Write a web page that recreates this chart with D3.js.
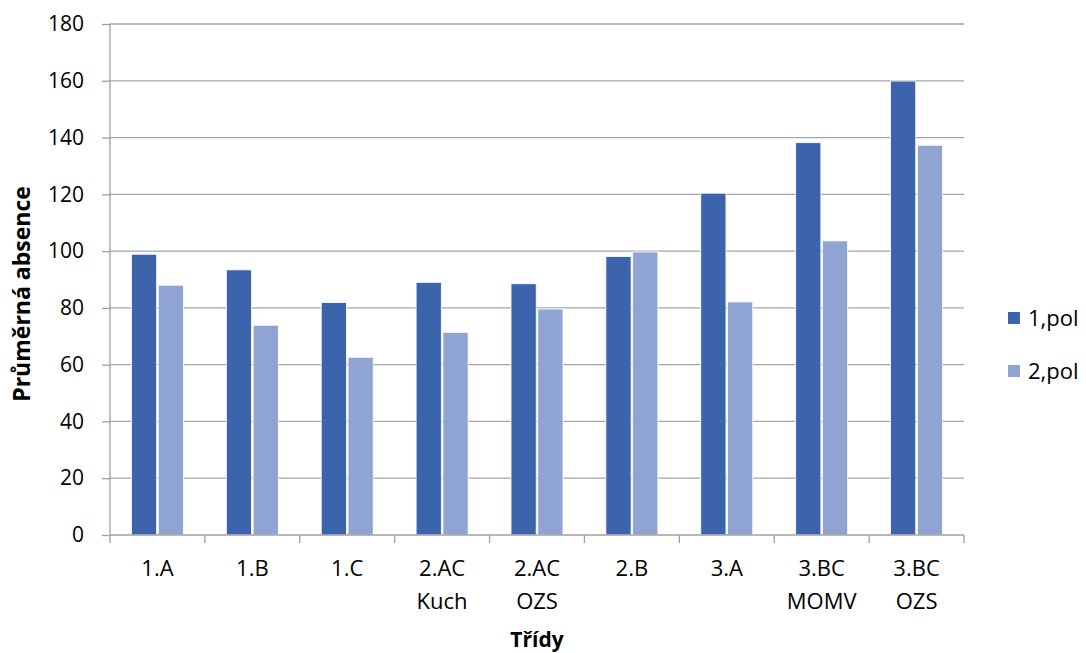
<!DOCTYPE html>
<html>
<head>
<meta charset="utf-8">
<script src="https://cdn.jsdelivr.net/npm/d3@7"></script>
<style>
  body { margin: 0; background: #fff; }
  svg text { font-family: 'Open Sans', 'Noto Sans', sans-serif; }
</style>
</head>
<body>
<svg></svg>
<script>
const WIDTH = 1086;
const HEIGHT = 653;
const MARGINS = { left: 110, top: 24, right: 122, bottom: 118 };
const graphWidth = WIDTH - MARGINS.left - MARGINS.right;
const graphHeight = HEIGHT - MARGINS.top - MARGINS.bottom;

const categories = [['1.A'], ['1.B'], ['1.C'], ['2.AC', 'Kuch'], ['2.AC', 'OZS'], ['2.B'], ['3.A'], ['3.BC', 'MOMV'], ['3.BC', 'OZS']];
const series = ['1,pol', '2,pol'];
const firstHalf = [98.9, 93.4, 81.9, 89.0, 88.5, 98.1, 120.4, 138.2, 159.9];
const secondHalf = [88.0, 73.9, 62.6, 71.4, 79.6, 99.7, 82.1, 103.6, 137.3];
const yTicks = [0, 20, 40, 60, 80, 100, 120, 140, 160, 180];
const COLORS = ['#3c64ad', '#90a4d4'];
const FONT = 21;
const FAMILY = "'Open Sans', 'Noto Sans', sans-serif";

const keys = categories.map((c) => c.join(' '));
const data = keys.map((k, i) => ({ name: k, values: [firstHalf[i], secondHalf[i]] }));

const svg = d3.select('svg').attr('width', WIDTH).attr('height', HEIGHT);
const graph = svg.append('g').attr('transform', `translate(${MARGINS.left}, ${MARGINS.top})`);

const y = d3.scaleLinear().domain([0, 180]).range([graphHeight, 0]);
const x = d3.scaleBand().domain(keys).range([0, graphWidth]).paddingInner(0).paddingOuter(0);
const x1 = d3.scaleBand().domain(series).range([0, x.bandwidth()]).paddingInner(0.06).paddingOuter(0.8);

// gridlines
graph.append('g')
  .selectAll('line')
  .data(yTicks.slice(1))
  .enter()
  .append('line')
  .attr('x1', 0)
  .attr('x2', graphWidth)
  .attr('y1', (d) => y(d))
  .attr('y2', (d) => y(d))
  .attr('stroke', '#a6a6a6')
  .attr('stroke-width', 1.3);

// bars
const groups = graph.selectAll('.grp')
  .data(data)
  .enter()
  .append('g')
  .attr('transform', (d) => `translate(${x(d.name)}, 0)`);

groups.selectAll('rect')
  .data((d) => d.values.map((v, i) => ({ key: series[i], value: v })))
  .enter()
  .append('rect')
  .attr('x', (d) => x1(d.key))
  .attr('width', x1.bandwidth())
  .attr('y', (d) => y(d.value))
  .attr('height', (d) => graphHeight - y(d.value))
  .attr('fill', (d, i) => COLORS[i])
  .attr('stroke', '#ffffff')
  .attr('stroke-width', 0.8);

// y axis
const yAxis = d3.axisLeft(y).tickValues(yTicks).tickSize(8).tickPadding(18);
const yAxisGroup = graph.append('g').call(yAxis).attr('font-family', FAMILY);
yAxisGroup.select('.domain').attr('stroke', '#a0a0a0').attr('stroke-width', 1.3).attr('d', `M0,0V${graphHeight}`);
yAxisGroup.selectAll('.tick line').attr('stroke', '#a0a0a0').attr('stroke-width', 1.3);
yAxisGroup.selectAll('.tick text').attr('font-size', FONT).attr('fill', '#000');

// x axis
const xAxis = d3.axisBottom(x).tickSize(0).tickFormat('');
const xAxisGroup = graph.append('g').attr('transform', `translate(0, ${graphHeight})`).call(xAxis).attr('font-family', FAMILY);
xAxisGroup.select('.domain').attr('stroke', '#a0a0a0').attr('stroke-width', 1.3).attr('d', `M0,0H${graphWidth}`);
xAxisGroup.selectAll('.sep')
  .data(keys.concat(['end']))
  .enter()
  .append('line')
  .attr('x1', (d, i) => i * x.step())
  .attr('x2', (d, i) => i * x.step())
  .attr('y1', 0)
  .attr('y2', 8)
  .attr('stroke', '#a0a0a0')
  .attr('stroke-width', 1.3);

xAxisGroup.selectAll('.tick text').remove();
xAxisGroup.selectAll('.tick')
  .append('text')
  .attr('fill', '#000')
  .attr('font-size', 22)
  .attr('text-anchor', 'middle')
  .selectAll('tspan')
  .data((d, i) => categories[i])
  .enter()
  .append('tspan')
  .attr('x', 0)
  .attr('y', (d, i) => 41 + i * 33)
  .text((d) => d);

// axis titles
svg.append('text')
  .attr('transform', `translate(30, 294) rotate(-90)`)
  .attr('text-anchor', 'middle')
  .attr('font-size', 23)
  .attr('font-weight', 'bold')
  .text('Průměrná absence');

svg.append('text')
  .attr('x', MARGINS.left + graphWidth / 2)
  .attr('y', 647)
  .attr('text-anchor', 'middle')
  .attr('font-size', FONT)
  .attr('font-weight', 'bold')
  .text('Třídy');

// legend
const legend = svg.append('g').attr('transform', 'translate(1008, 312)');
const items = legend.selectAll('g')
  .data(series)
  .enter()
  .append('g')
  .attr('transform', (d, i) => `translate(0, ${i * 53})`);
items.append('rect').attr('width', 12).attr('height', 12).attr('fill', (d, i) => COLORS[i]);
items.append('text')
  .attr('x', 20)
  .attr('y', 14)
  .attr('font-size', 22)
  .text((d) => d);
</script>
</body>
</html>
